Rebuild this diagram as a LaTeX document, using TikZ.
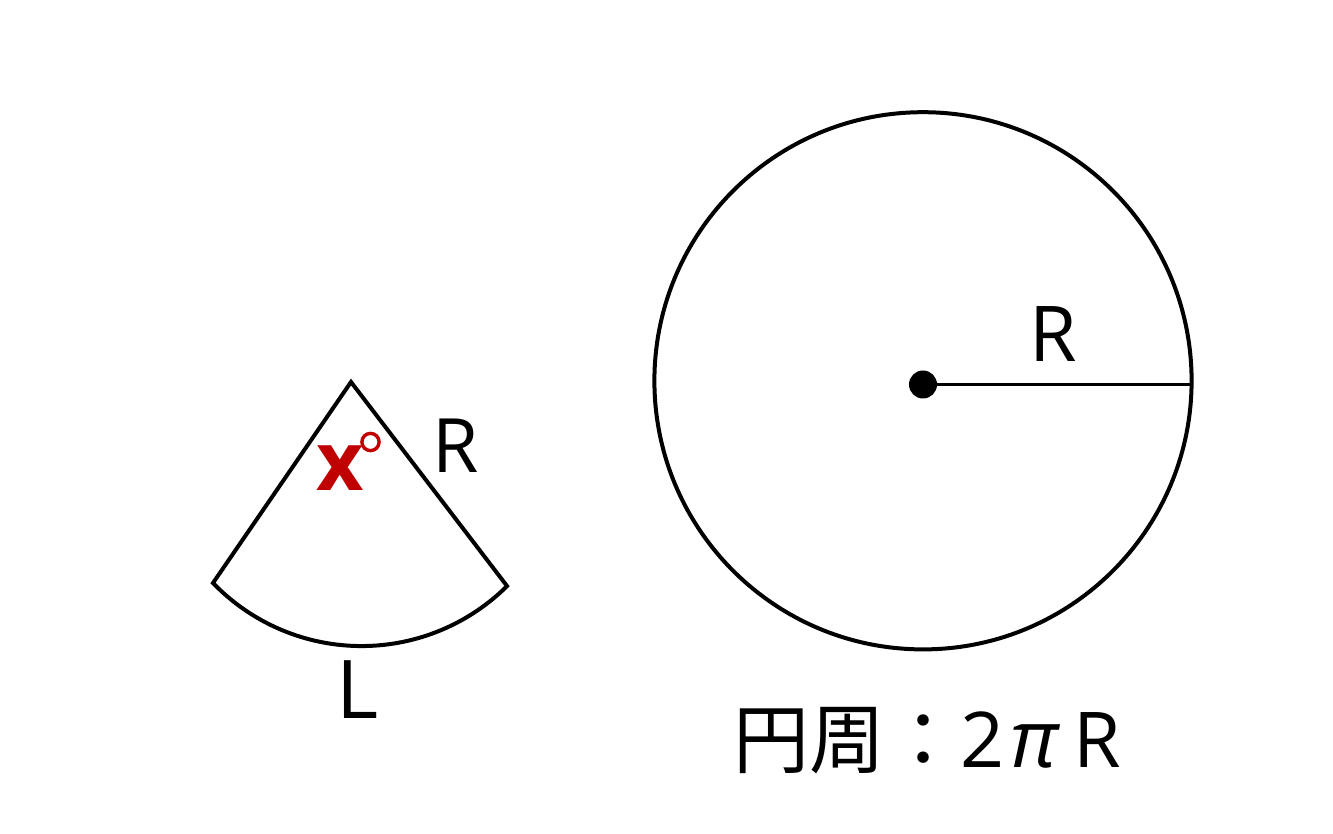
\documentclass[tikz,border=0pt]{standalone}
\usepackage{fontspec}
\setmainfont{Open Sans}
\newfontfamily\jp{Noto Sans CJK JP}
\definecolor{xred}{RGB}{192,0,0}
\begin{document}
\begin{tikzpicture}[x=1pt,y=1pt,line width=4pt,line join=miter,
  lbl/.style={inner sep=0pt,anchor=base,font=\fontsize{75}{75}\selectfont},
  cpt/.style={inner sep=0pt,anchor=base west,font=\fontsize{77}{77}\selectfont}]
\useasboundingbox (0,0) rectangle (1333,833);
% sector
\coordinate (apex) at (351,451);
\coordinate (A) at (213,250);
\coordinate (C) at (507,247);
\draw (apex) -- (A) arc[start angle=224,end angle=314.8,radius=206.5] -- cycle;
\node[lbl] (rs) at (456,360) {R};
\node[lbl,font=\fontsize{81}{81}\selectfont] (ls) at (358,115) {L};
\node[inner sep=0pt,anchor=base west,text=xred,font=\fontsize{82}{82}\selectfont\bfseries] (xs) at (314,342) {x};
\draw[xred,line width=3.4pt] (370.5,391) circle[radius=8.6];
% circle
\coordinate (cc) at (923,452.2);
\draw (cc) circle[radius=268.6];
\coordinate (dc) at (923,448.5);
\coordinate (rim) at (1191.6,448.5);
\fill (dc) circle[radius=14];
\draw[line width=3.2pt] (dc) -- (rim);
\node[lbl,font=\fontsize{77}{77}\selectfont] (rc) at (1053,471) {R};
% caption
\node[inner sep=0pt,anchor=base west,font=\jp\fontsize{76}{76}\selectfont] (cap) at (731,66) {円周：};
\node[cpt] (two) at (958,66) {2};
\node[cpt,font=\fontsize{80}{80}\selectfont\itshape] (pi) at (1008,66) {π};
\node[cpt] (rr) at (1071,66) {R};
\end{tikzpicture}
\end{document}
